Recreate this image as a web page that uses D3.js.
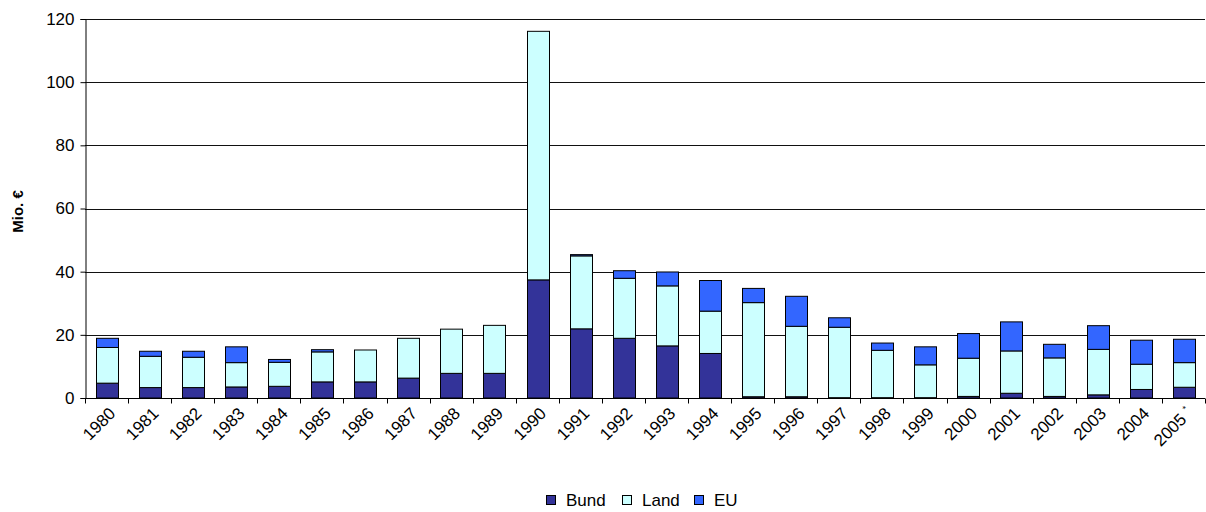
<!DOCTYPE html>
<html>
<head>
<meta charset="utf-8">
<script src="https://cdn.jsdelivr.net/npm/d3@7"></script>
<style>
  html, body { margin: 0; padding: 0; background: #fff; }
  svg { display: block; font-family: "Liberation Sans", Arial, sans-serif; }
</style>
</head>
<body>
<svg id="chart" width="1206" height="512"></svg>
<script>
const years = ["1980","1981","1982","1983","1984","1985","1986","1987","1988","1989","1990","1991","1992","1993","1994","1995","1996","1997","1998","1999","2000","2001","2002","2003","2004","2005"];
const bund = [4.7, 3.3, 3.3, 3.5, 3.7, 5.1, 5.1, 6.3, 7.8, 7.8, 37.4, 21.9, 18.9, 16.5, 14.1, 0.4, 0.4, 0.1, 0.1, 0.1, 0.5, 1.5, 0.5, 1.0, 2.7, 3.4];
const land = [11.3, 9.9, 9.6, 7.7, 7.6, 9.5, 10.1, 12.6, 14.0, 15.2, 78.7, 23.1, 19.0, 19.0, 13.4, 29.8, 22.3, 22.3, 15.0, 10.4, 12.1, 13.4, 12.2, 14.4, 8.0, 7.8];
const eu   = [2.9, 1.6, 1.9, 5.0, 0.9, 0.7, 0.0, 0.0, 0.0, 0.0, 0.0, 0.4, 2.4, 4.4, 9.7, 4.5, 9.5, 3.0, 2.3, 5.7, 7.8, 9.2, 4.3, 7.5, 7.6, 7.4];
const yTicks = [0, 20, 40, 60, 80, 100, 120];
const seriesNames = ["Bund", "Land", "EU"];
const seriesColors = ["#333399", "#CCFFFF", "#3366FF"];

const svg = d3.select("#chart");
const pLeft = 85, pRight = 1205, pTop = 19, pBottom = 398;
const FS = 17;

const x = d3.scaleBand().domain(years).range([pLeft, pRight]).paddingInner(0.5).paddingOuter(0.25);
const y = d3.scaleLinear().domain([0, 120]).range([pBottom, pTop]);

// gridlines
svg.append("g").selectAll("line").data(yTicks.filter(d => d > 0)).join("line")
  .attr("x1", pLeft).attr("x2", pRight)
  .attr("y1", d => Math.round(y(d)) + 0.5).attr("y2", d => Math.round(y(d)) + 0.5)
  .attr("stroke", "#111").attr("stroke-width", 1);

// stacked data
const rows = years.map((yr, i) => ({year: yr, Bund: bund[i], Land: land[i], EU: eu[i]}));
const stack = d3.stack().keys(seriesNames)(rows);

const barG = svg.append("g");
stack.forEach((layer, li) => {
  barG.append("g").selectAll("rect").data(layer).join("rect")
    .attr("x", d => Math.round(x(d.data.year)) + 0.5)
    .attr("width", Math.round(x.bandwidth()))
    .attr("y", d => y(d[1]))
    .attr("height", d => Math.max(0, y(d[0]) - y(d[1])))
    .attr("fill", seriesColors[li])
    .attr("stroke", "#000").attr("stroke-width", 1)
    .attr("display", d => (d[1] - d[0]) > 0 ? null : "none");
});

// y axis
const yAxis = d3.axisLeft(y).tickValues(yTicks).tickSize(5).tickPadding(6);
const ya = svg.append("g").attr("transform", `translate(${pLeft + 0.5},0)`).call(yAxis);
ya.select(".domain").attr("stroke", "#000");
ya.selectAll(".tick line").attr("stroke", "#000");
ya.selectAll(".tick text").attr("font-size", FS).attr("fill", "#000")
  .attr("font-family", "Liberation Sans, Arial, sans-serif");

// x axis (ticks at category boundaries)
const xa = svg.append("g").attr("transform", `translate(0,${pBottom + 0.5})`);
xa.append("line").attr("x1", pLeft).attr("x2", pRight).attr("stroke", "#000");
const bounds = d3.range(years.length + 1).map(i => pLeft + i * (pRight - pLeft) / years.length);
xa.selectAll("line.tk").data(bounds).join("line").attr("class", "tk")
  .attr("x1", d => Math.round(d) + 0.5).attr("x2", d => Math.round(d) + 0.5)
  .attr("y1", 0).attr("y2", 5).attr("stroke", "#000");

const labels = xa.selectAll("text.xl").data(years).join("text").attr("class", "xl")
  .attr("transform", d => `translate(${x(d) + x.bandwidth() / 2 + 10},${16}) rotate(-45)`)
  .attr("text-anchor", "end")
  .attr("font-size", FS).attr("fill", "#000")
  .text(d => d);
labels.filter(d => d === "2005").append("tspan")
  .attr("font-size", 9).attr("dx", 5).attr("dy", -7).text("*");

// y label
svg.append("text")
  .attr("transform", `translate(23,${(pTop + pBottom) / 2 + 3}) rotate(-90)`)
  .attr("text-anchor", "middle").attr("font-size", 15).attr("font-weight", "bold")
  .text("Mio. €");

// legend
const legend = svg.append("g").attr("transform", "translate(546,500)");
const legX = [0, 76, 148];
seriesNames.forEach((n, i) => {
  const g = legend.append("g").attr("transform", `translate(${legX[i]},0)`);
  g.append("rect").attr("x", 0.5).attr("y", -4.5).attr("width", 9).attr("height", 9)
    .attr("fill", seriesColors[i]).attr("stroke", "#000");
  g.append("text").attr("x", 20).attr("y", 6).attr("font-size", FS).text(n);
});
</script>
</body>
</html>
